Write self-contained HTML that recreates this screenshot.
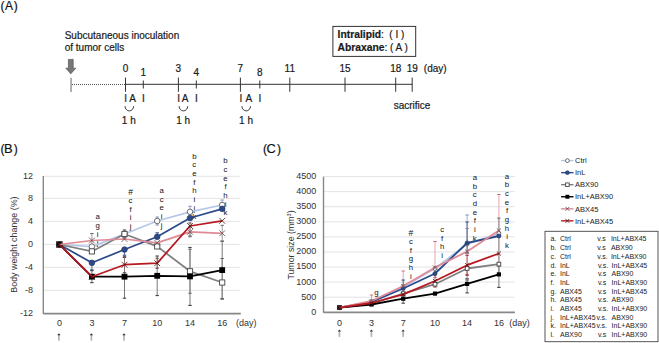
<!DOCTYPE html>
<html><head><meta charset="utf-8"><style>
html,body{margin:0;padding:0;background:#fff;overflow:hidden;}
svg{display:block;font-family:"Liberation Sans", sans-serif;}
</style></head><body>
<svg width="659" height="343" viewBox="0 0 659 343">
<rect width="659" height="343" fill="#fff"/>
<text x="0.5" y="10" font-size="12" text-anchor="start" font-weight="normal" fill="#111" stroke="#111" stroke-width="0.2" >(</text>
<text x="4.9" y="10" font-size="12" text-anchor="start" font-weight="normal" fill="#111" stroke="#111" stroke-width="0.2" >A</text>
<text x="13.8" y="10" font-size="12" text-anchor="start" font-weight="normal" fill="#111" stroke="#111" stroke-width="0.2" >)</text>
<text x="64.7" y="38.6" font-size="10" text-anchor="start" font-weight="normal" fill="#1a1a1a" stroke="#1a1a1a" stroke-width="0.2" >Subcutaneous inoculation</text>
<text x="64.7" y="50.6" font-size="10" text-anchor="start" font-weight="normal" fill="#1a1a1a" stroke="#1a1a1a" stroke-width="0.2" >of tumor cells</text>
<path d="M68.4 59.4 H73.2 V68.2 H75.8 L70.8 73.8 L65.8 68.2 H68.4 Z" fill="#777" stroke="#555" stroke-width="0.7"/>
<line x1="71.05" y1="77.7" x2="71.05" y2="91.9" stroke="#999" stroke-width="1.5" />
<line x1="72" y1="84.5" x2="125" y2="84.5" stroke="#555" stroke-width="1" stroke-dasharray="1 1"/>
<line x1="125.5" y1="84.3" x2="412.2" y2="84.3" stroke="#333" stroke-width="1" />
<line x1="125.5" y1="77.6" x2="125.5" y2="91.8" stroke="#333" stroke-width="1" />
<line x1="178.4" y1="77.6" x2="178.4" y2="91.8" stroke="#333" stroke-width="1" />
<line x1="240.4" y1="77.6" x2="240.4" y2="91.8" stroke="#333" stroke-width="1" />
<line x1="289.8" y1="77.6" x2="289.8" y2="91.8" stroke="#333" stroke-width="1" />
<line x1="345.0" y1="77.6" x2="345.0" y2="91.8" stroke="#333" stroke-width="1" />
<line x1="395.7" y1="77.6" x2="395.7" y2="91.8" stroke="#333" stroke-width="1" />
<line x1="412.2" y1="77.6" x2="412.2" y2="91.8" stroke="#333" stroke-width="1" />
<line x1="143.3" y1="80.5" x2="143.3" y2="88.5" stroke="#333" stroke-width="1" />
<line x1="196.3" y1="80.5" x2="196.3" y2="88.5" stroke="#333" stroke-width="1" />
<line x1="259.8" y1="80.5" x2="259.8" y2="88.5" stroke="#333" stroke-width="1" />
<text x="125.5" y="72.4" font-size="10" text-anchor="middle" font-weight="normal" fill="#1a1a1a" stroke="#1a1a1a" stroke-width="0.2" >0</text>
<text x="178.4" y="72.4" font-size="10" text-anchor="middle" font-weight="normal" fill="#1a1a1a" stroke="#1a1a1a" stroke-width="0.2" >3</text>
<text x="240.4" y="72.4" font-size="10" text-anchor="middle" font-weight="normal" fill="#1a1a1a" stroke="#1a1a1a" stroke-width="0.2" >7</text>
<text x="289.8" y="72.4" font-size="10" text-anchor="middle" font-weight="normal" fill="#1a1a1a" stroke="#1a1a1a" stroke-width="0.2" >11</text>
<text x="345.0" y="72.4" font-size="10" text-anchor="middle" font-weight="normal" fill="#1a1a1a" stroke="#1a1a1a" stroke-width="0.2" >15</text>
<text x="395.7" y="72.4" font-size="10" text-anchor="middle" font-weight="normal" fill="#1a1a1a" stroke="#1a1a1a" stroke-width="0.2" >18</text>
<text x="412.2" y="72.4" font-size="10" text-anchor="middle" font-weight="normal" fill="#1a1a1a" stroke="#1a1a1a" stroke-width="0.2" >19</text>
<text x="143.3" y="75.9" font-size="10" text-anchor="middle" font-weight="normal" fill="#1a1a1a" stroke="#1a1a1a" stroke-width="0.2" >1</text>
<text x="196.3" y="75.9" font-size="10" text-anchor="middle" font-weight="normal" fill="#1a1a1a" stroke="#1a1a1a" stroke-width="0.2" >4</text>
<text x="259.8" y="75.9" font-size="10" text-anchor="middle" font-weight="normal" fill="#1a1a1a" stroke="#1a1a1a" stroke-width="0.2" >8</text>
<text x="423.8" y="72.4" font-size="10" text-anchor="start" font-weight="normal" fill="#1a1a1a" stroke="#1a1a1a" stroke-width="0.2" >(day)</text>
<text x="125.6" y="102.4" font-size="10" text-anchor="middle" font-weight="normal" fill="#1a1a1a" stroke="#1a1a1a" stroke-width="0.2" >I</text>
<text x="132.6" y="102.4" font-size="10" text-anchor="middle" font-weight="normal" fill="#1a1a1a" stroke="#1a1a1a" stroke-width="0.2" >A</text>
<text x="143.3" y="102.4" font-size="10" text-anchor="middle" font-weight="normal" fill="#1a1a1a" stroke="#1a1a1a" stroke-width="0.2" >I</text>
<path d="M125.00000000000001 106.2 A4.3 4.7 0 0 0 133.60000000000002 106.2" fill="none" stroke="#333" stroke-width="0.95"/>
<text x="128.8" y="124.3" font-size="10" text-anchor="middle" font-weight="normal" fill="#1a1a1a" stroke="#1a1a1a" stroke-width="0.2" >1 h</text>
<text x="178.7" y="102.4" font-size="10" text-anchor="middle" font-weight="normal" fill="#1a1a1a" stroke="#1a1a1a" stroke-width="0.2" >I</text>
<text x="185.0" y="102.4" font-size="10" text-anchor="middle" font-weight="normal" fill="#1a1a1a" stroke="#1a1a1a" stroke-width="0.2" >A</text>
<text x="196.3" y="102.4" font-size="10" text-anchor="middle" font-weight="normal" fill="#1a1a1a" stroke="#1a1a1a" stroke-width="0.2" >I</text>
<path d="M179.1 106.2 A4.3 4.7 0 0 0 187.70000000000002 106.2" fill="none" stroke="#333" stroke-width="0.95"/>
<text x="183.1" y="124.3" font-size="10" text-anchor="middle" font-weight="normal" fill="#1a1a1a" stroke="#1a1a1a" stroke-width="0.2" >1 h</text>
<text x="241.0" y="102.4" font-size="10" text-anchor="middle" font-weight="normal" fill="#1a1a1a" stroke="#1a1a1a" stroke-width="0.2" >I</text>
<text x="248.9" y="102.4" font-size="10" text-anchor="middle" font-weight="normal" fill="#1a1a1a" stroke="#1a1a1a" stroke-width="0.2" >A</text>
<text x="259.8" y="102.4" font-size="10" text-anchor="middle" font-weight="normal" fill="#1a1a1a" stroke="#1a1a1a" stroke-width="0.2" >I</text>
<path d="M241.89999999999998 106.2 A4.3 4.7 0 0 0 250.5 106.2" fill="none" stroke="#333" stroke-width="0.95"/>
<text x="246.0" y="124.3" font-size="10" text-anchor="middle" font-weight="normal" fill="#1a1a1a" stroke="#1a1a1a" stroke-width="0.2" >1 h</text>
<text x="412.0" y="109.0" font-size="10" text-anchor="middle" font-weight="normal" fill="#1a1a1a" stroke="#1a1a1a" stroke-width="0.2" >sacrifice</text>
<rect x="332.9" y="26.4" width="82.8" height="30" fill="none" stroke="#333" stroke-width="1"/>
<text x="337.6" y="38.4" font-size="10.3" text-anchor="start" font-weight="normal" fill="#1a1a1a" stroke="#1a1a1a" stroke-width="0.2" ><tspan font-weight="bold">Intralipid</tspan>:</text>
<text x="389.3" y="38.4" font-size="10" text-anchor="start" font-weight="normal" fill="#1a1a1a" stroke="#1a1a1a" stroke-width="0.2" >( I )</text>
<text x="337.6" y="51.0" font-size="10.3" text-anchor="start" font-weight="normal" fill="#1a1a1a" stroke="#1a1a1a" stroke-width="0.2" ><tspan font-weight="bold">Abraxane</tspan>:</text>
<text x="390.0" y="51.0" font-size="10" text-anchor="start" font-weight="normal" fill="#1a1a1a" stroke="#1a1a1a" stroke-width="0.2" >( A )</text>
<text x="0.6" y="153" font-size="12" text-anchor="start" font-weight="normal" fill="#111" stroke="#111" stroke-width="0.2" >(</text>
<text x="4.1" y="153" font-size="12.9" text-anchor="start" font-weight="normal" fill="#111" stroke="#111" stroke-width="0.2" >B</text>
<text x="13.7" y="153" font-size="12" text-anchor="start" font-weight="normal" fill="#111" stroke="#111" stroke-width="0.2" >)</text>
<line x1="44" y1="176.3" x2="239.5" y2="176.3" stroke="#dcdcdc" stroke-width="0.8" />
<line x1="44" y1="198.4" x2="239.5" y2="198.4" stroke="#dcdcdc" stroke-width="0.8" />
<line x1="44" y1="221.4" x2="239.5" y2="221.4" stroke="#dcdcdc" stroke-width="0.8" />
<line x1="44" y1="244.4" x2="239.5" y2="244.4" stroke="#dcdcdc" stroke-width="0.8" />
<line x1="44" y1="267.4" x2="239.5" y2="267.4" stroke="#dcdcdc" stroke-width="0.8" />
<line x1="44" y1="290.3" x2="239.5" y2="290.3" stroke="#dcdcdc" stroke-width="0.8" />
<text x="33" y="179.10000000000002" font-size="9" text-anchor="end" font-weight="normal" fill="#333" stroke="#333" stroke-width="0" >12</text>
<text x="33" y="201.20000000000002" font-size="9" text-anchor="end" font-weight="normal" fill="#333" stroke="#333" stroke-width="0" >8</text>
<text x="33" y="224.20000000000002" font-size="9" text-anchor="end" font-weight="normal" fill="#333" stroke="#333" stroke-width="0" >4</text>
<text x="33" y="247.20000000000002" font-size="9" text-anchor="end" font-weight="normal" fill="#333" stroke="#333" stroke-width="0" >0</text>
<text x="33" y="270.2" font-size="9" text-anchor="end" font-weight="normal" fill="#333" stroke="#333" stroke-width="0" >-4</text>
<text x="33" y="293.1" font-size="9" text-anchor="end" font-weight="normal" fill="#333" stroke="#333" stroke-width="0" >-8</text>
<text x="33" y="316.40000000000003" font-size="9" text-anchor="end" font-weight="normal" fill="#333" stroke="#333" stroke-width="0" >-12</text>
<line x1="43.3" y1="176.0" x2="43.3" y2="314" stroke="#888" stroke-width="1.4" />
<line x1="43.3" y1="313.6" x2="240.8" y2="313.6" stroke="#888" stroke-width="1.6" />
<text x="59.4" y="325.9" font-size="9" text-anchor="middle" font-weight="normal" fill="#333" stroke="#333" stroke-width="0" >0</text>
<text x="91.9" y="325.9" font-size="9" text-anchor="middle" font-weight="normal" fill="#333" stroke="#333" stroke-width="0" >3</text>
<text x="124.5" y="325.9" font-size="9" text-anchor="middle" font-weight="normal" fill="#333" stroke="#333" stroke-width="0" >7</text>
<text x="157.2" y="325.9" font-size="9" text-anchor="middle" font-weight="normal" fill="#333" stroke="#333" stroke-width="0" >10</text>
<text x="190.0" y="325.9" font-size="9" text-anchor="middle" font-weight="normal" fill="#333" stroke="#333" stroke-width="0" >14</text>
<text x="222.2" y="325.9" font-size="9" text-anchor="middle" font-weight="normal" fill="#333" stroke="#333" stroke-width="0" >16</text>
<text x="236.0" y="325.9" font-size="9" text-anchor="start" font-weight="normal" fill="#333" stroke="#333" stroke-width="0" >(day)</text>
<rect x="58.1" y="335.0" width="1.6" height="5.7" fill="#b0b0b0"/>
<path d="M57.199999999999996 335.2 L58.9 333.2 L60.6 335.2 Z" fill="#333"/>
<rect x="90.60000000000001" y="335.0" width="1.6" height="5.7" fill="#b0b0b0"/>
<path d="M89.7 335.2 L91.4 333.2 L93.10000000000001 335.2 Z" fill="#333"/>
<rect x="123.2" y="335.0" width="1.6" height="5.7" fill="#b0b0b0"/>
<path d="M122.3 335.2 L124.0 333.2 L125.7 335.2 Z" fill="#333"/>
<text transform="translate(16.6 244.6) rotate(-90)" font-size="8.9" text-anchor="middle" fill="#333">Body weight change (%)</text>
<text x="263" y="153" font-size="12" text-anchor="start" font-weight="normal" fill="#111" stroke="#111" stroke-width="0.2" >(</text>
<text x="266.6" y="153" font-size="12.8" text-anchor="start" font-weight="normal" fill="#111" stroke="#111" stroke-width="0.2" >C</text>
<text x="277" y="153" font-size="12" text-anchor="start" font-weight="normal" fill="#111" stroke="#111" stroke-width="0.2" >)</text>
<line x1="324" y1="297.22" x2="514.9" y2="297.22" stroke="#dcdcdc" stroke-width="0.8" />
<line x1="324" y1="282.14" x2="514.9" y2="282.14" stroke="#dcdcdc" stroke-width="0.8" />
<line x1="324" y1="267.06" x2="514.9" y2="267.06" stroke="#dcdcdc" stroke-width="0.8" />
<line x1="324" y1="251.98000000000002" x2="514.9" y2="251.98000000000002" stroke="#dcdcdc" stroke-width="0.8" />
<line x1="324" y1="236.9" x2="514.9" y2="236.9" stroke="#dcdcdc" stroke-width="0.8" />
<line x1="324" y1="221.82" x2="514.9" y2="221.82" stroke="#dcdcdc" stroke-width="0.8" />
<line x1="324" y1="206.74" x2="514.9" y2="206.74" stroke="#dcdcdc" stroke-width="0.8" />
<line x1="324" y1="191.66000000000003" x2="514.9" y2="191.66000000000003" stroke="#dcdcdc" stroke-width="0.8" />
<line x1="324" y1="176.58" x2="514.9" y2="176.58" stroke="#dcdcdc" stroke-width="0.8" />
<text transform="translate(316.2 314.7) scale(0.93 1)" font-size="9.7" text-anchor="end" font-weight="normal" fill="#333" >0</text>
<text transform="translate(316.2 299.62) scale(0.93 1)" font-size="9.7" text-anchor="end" font-weight="normal" fill="#333" >500</text>
<text transform="translate(316.2 284.53999999999996) scale(0.93 1)" font-size="9.7" text-anchor="end" font-weight="normal" fill="#333" >1000</text>
<text transform="translate(316.2 269.46) scale(0.93 1)" font-size="9.7" text-anchor="end" font-weight="normal" fill="#333" >1500</text>
<text transform="translate(316.2 254.38000000000002) scale(0.93 1)" font-size="9.7" text-anchor="end" font-weight="normal" fill="#333" >2000</text>
<text transform="translate(316.2 239.3) scale(0.93 1)" font-size="9.7" text-anchor="end" font-weight="normal" fill="#333" >2500</text>
<text transform="translate(316.2 224.22) scale(0.93 1)" font-size="9.7" text-anchor="end" font-weight="normal" fill="#333" >3000</text>
<text transform="translate(316.2 209.14000000000001) scale(0.93 1)" font-size="9.7" text-anchor="end" font-weight="normal" fill="#333" >3500</text>
<text transform="translate(316.2 194.06000000000003) scale(0.93 1)" font-size="9.7" text-anchor="end" font-weight="normal" fill="#333" >4000</text>
<text transform="translate(316.2 178.98000000000002) scale(0.93 1)" font-size="9.7" text-anchor="end" font-weight="normal" fill="#333" >4500</text>
<line x1="323.5" y1="176.6" x2="323.5" y2="312.7" stroke="#888" stroke-width="1.4" />
<line x1="323.5" y1="312.4" x2="514.9" y2="312.4" stroke="#888" stroke-width="1.6" />
<text x="339.5" y="325.9" font-size="9" text-anchor="middle" font-weight="normal" fill="#333" stroke="#333" stroke-width="0" >0</text>
<text x="371.5" y="325.9" font-size="9" text-anchor="middle" font-weight="normal" fill="#333" stroke="#333" stroke-width="0" >3</text>
<text x="403.2" y="325.9" font-size="9" text-anchor="middle" font-weight="normal" fill="#333" stroke="#333" stroke-width="0" >7</text>
<text x="435.0" y="325.9" font-size="9" text-anchor="middle" font-weight="normal" fill="#333" stroke="#333" stroke-width="0" >10</text>
<text x="467.1" y="325.9" font-size="9" text-anchor="middle" font-weight="normal" fill="#333" stroke="#333" stroke-width="0" >14</text>
<text x="498.9" y="325.9" font-size="9" text-anchor="middle" font-weight="normal" fill="#333" stroke="#333" stroke-width="0" >16</text>
<text x="509.3" y="325.9" font-size="9" text-anchor="start" font-weight="normal" fill="#333" stroke="#333" stroke-width="0" >(day)</text>
<rect x="338.59999999999997" y="331.40000000000003" width="1.6" height="5.499999999999955" fill="#b0b0b0"/>
<path d="M337.7 331.6 L339.4 329.6 L341.09999999999997 331.6 Z" fill="#333"/>
<rect x="370.59999999999997" y="331.40000000000003" width="1.6" height="5.499999999999955" fill="#b0b0b0"/>
<path d="M369.7 331.6 L371.4 329.6 L373.09999999999997 331.6 Z" fill="#333"/>
<rect x="402.29999999999995" y="331.40000000000003" width="1.6" height="5.499999999999955" fill="#b0b0b0"/>
<path d="M401.4 331.6 L403.09999999999997 329.6 L404.79999999999995 331.6 Z" fill="#333"/>
<text transform="translate(294 245) rotate(-90)" font-size="8.8" text-anchor="middle" fill="#333">Tumor size (mm<tspan font-size="5.5" dy="-3">3</tspan><tspan dy="3">)</tspan></text>
<text x="97.7" y="219.4" font-size="7.8" text-anchor="middle" font-weight="normal" fill="#111" stroke="#111" stroke-width="0" >a</text>
<text x="97.7" y="228.05" font-size="7.8" text-anchor="middle" font-weight="normal" fill="#111" stroke="#111" stroke-width="0" >g</text>
<text x="97.7" y="236.70000000000002" font-size="7.8" text-anchor="middle" font-weight="normal" fill="#111" stroke="#111" stroke-width="0" >i</text>
<text x="97.7" y="245.35" font-size="7.8" text-anchor="middle" font-weight="normal" fill="#111" stroke="#111" stroke-width="0" >j</text>
<text x="130.5" y="194.60000000000002" font-size="8.5" text-anchor="middle" font-weight="normal" fill="#111" stroke="#111" stroke-width="0" >#</text>
<text x="130.5" y="203.05" font-size="7.8" text-anchor="middle" font-weight="normal" fill="#111" stroke="#111" stroke-width="0" >c</text>
<text x="130.5" y="211.70000000000002" font-size="7.8" text-anchor="middle" font-weight="normal" fill="#111" stroke="#111" stroke-width="0" >f</text>
<text x="130.5" y="220.35" font-size="7.8" text-anchor="middle" font-weight="normal" fill="#111" stroke="#111" stroke-width="0" >i</text>
<text x="130.5" y="229.0" font-size="7.8" text-anchor="middle" font-weight="normal" fill="#111" stroke="#111" stroke-width="0" >j</text>
<text x="161.7" y="192.9" font-size="7.8" text-anchor="middle" font-weight="normal" fill="#111" stroke="#111" stroke-width="0" >a</text>
<text x="161.7" y="201.55" font-size="7.8" text-anchor="middle" font-weight="normal" fill="#111" stroke="#111" stroke-width="0" >c</text>
<text x="161.7" y="210.20000000000002" font-size="7.8" text-anchor="middle" font-weight="normal" fill="#111" stroke="#111" stroke-width="0" >e</text>
<text x="161.7" y="218.85" font-size="7.8" text-anchor="middle" font-weight="normal" fill="#111" stroke="#111" stroke-width="0" >i</text>
<text x="161.7" y="227.5" font-size="7.8" text-anchor="middle" font-weight="normal" fill="#111" stroke="#111" stroke-width="0" >j</text>
<text x="194.3" y="158.7" font-size="7.8" text-anchor="middle" font-weight="normal" fill="#111" stroke="#111" stroke-width="0" >b</text>
<text x="194.3" y="167.35" font-size="7.8" text-anchor="middle" font-weight="normal" fill="#111" stroke="#111" stroke-width="0" >c</text>
<text x="194.3" y="176.0" font-size="7.8" text-anchor="middle" font-weight="normal" fill="#111" stroke="#111" stroke-width="0" >e</text>
<text x="194.3" y="184.65" font-size="7.8" text-anchor="middle" font-weight="normal" fill="#111" stroke="#111" stroke-width="0" >f</text>
<text x="194.3" y="193.29999999999998" font-size="7.8" text-anchor="middle" font-weight="normal" fill="#111" stroke="#111" stroke-width="0" >h</text>
<text x="194.3" y="201.95" font-size="7.8" text-anchor="middle" font-weight="normal" fill="#111" stroke="#111" stroke-width="0" >i</text>
<text x="194.3" y="210.6" font-size="7.8" text-anchor="middle" font-weight="normal" fill="#111" stroke="#111" stroke-width="0" >j</text>
<text x="194.3" y="219.25" font-size="7.8" text-anchor="middle" font-weight="normal" fill="#111" stroke="#111" stroke-width="0" >k</text>
<text x="225.5" y="163.29999999999998" font-size="7.8" text-anchor="middle" font-weight="normal" fill="#111" stroke="#111" stroke-width="0" >b</text>
<text x="225.5" y="171.95" font-size="7.8" text-anchor="middle" font-weight="normal" fill="#111" stroke="#111" stroke-width="0" >c</text>
<text x="225.5" y="180.6" font-size="7.8" text-anchor="middle" font-weight="normal" fill="#111" stroke="#111" stroke-width="0" >e</text>
<text x="225.5" y="189.24999999999997" font-size="7.8" text-anchor="middle" font-weight="normal" fill="#111" stroke="#111" stroke-width="0" >f</text>
<text x="225.5" y="197.89999999999998" font-size="7.8" text-anchor="middle" font-weight="normal" fill="#111" stroke="#111" stroke-width="0" >h</text>
<text x="225.5" y="206.54999999999998" font-size="7.8" text-anchor="middle" font-weight="normal" fill="#111" stroke="#111" stroke-width="0" >i</text>
<text x="225.5" y="215.2" font-size="7.8" text-anchor="middle" font-weight="normal" fill="#111" stroke="#111" stroke-width="0" >k</text>
<text x="376.4" y="294.90000000000003" font-size="7.8" text-anchor="middle" font-weight="normal" fill="#111" stroke="#111" stroke-width="0" >g</text>
<text x="410.9" y="235.5" font-size="8.5" text-anchor="middle" font-weight="normal" fill="#111" stroke="#111" stroke-width="0" >#</text>
<text x="410.9" y="243.95" font-size="7.8" text-anchor="middle" font-weight="normal" fill="#111" stroke="#111" stroke-width="0" >c</text>
<text x="410.9" y="252.6" font-size="7.8" text-anchor="middle" font-weight="normal" fill="#111" stroke="#111" stroke-width="0" >f</text>
<text x="410.9" y="261.25" font-size="7.8" text-anchor="middle" font-weight="normal" fill="#111" stroke="#111" stroke-width="0" >g</text>
<text x="410.9" y="269.90000000000003" font-size="7.8" text-anchor="middle" font-weight="normal" fill="#111" stroke="#111" stroke-width="0" >h</text>
<text x="410.9" y="278.55" font-size="7.8" text-anchor="middle" font-weight="normal" fill="#111" stroke="#111" stroke-width="0" >i</text>
<text x="442.1" y="232.1" font-size="7.8" text-anchor="middle" font-weight="normal" fill="#111" stroke="#111" stroke-width="0" >c</text>
<text x="442.1" y="240.75" font-size="7.8" text-anchor="middle" font-weight="normal" fill="#111" stroke="#111" stroke-width="0" >f</text>
<text x="442.1" y="249.4" font-size="7.8" text-anchor="middle" font-weight="normal" fill="#111" stroke="#111" stroke-width="0" >h</text>
<text x="442.1" y="258.05" font-size="7.8" text-anchor="middle" font-weight="normal" fill="#111" stroke="#111" stroke-width="0" >i</text>
<text x="474.8" y="180.0" font-size="7.8" text-anchor="middle" font-weight="normal" fill="#111" stroke="#111" stroke-width="0" >a</text>
<text x="474.8" y="188.65" font-size="7.8" text-anchor="middle" font-weight="normal" fill="#111" stroke="#111" stroke-width="0" >b</text>
<text x="474.8" y="197.3" font-size="7.8" text-anchor="middle" font-weight="normal" fill="#111" stroke="#111" stroke-width="0" >c</text>
<text x="474.8" y="205.95000000000002" font-size="7.8" text-anchor="middle" font-weight="normal" fill="#111" stroke="#111" stroke-width="0" >d</text>
<text x="474.8" y="214.6" font-size="7.8" text-anchor="middle" font-weight="normal" fill="#111" stroke="#111" stroke-width="0" >e</text>
<text x="474.8" y="223.25" font-size="7.8" text-anchor="middle" font-weight="normal" fill="#111" stroke="#111" stroke-width="0" >f</text>
<text x="474.8" y="231.9" font-size="7.8" text-anchor="middle" font-weight="normal" fill="#111" stroke="#111" stroke-width="0" >i</text>
<text x="474.8" y="240.55" font-size="7.8" text-anchor="middle" font-weight="normal" fill="#111" stroke="#111" stroke-width="0" >k</text>
<text x="507.0" y="178.6" font-size="7.8" text-anchor="middle" font-weight="normal" fill="#111" stroke="#111" stroke-width="0" >a</text>
<text x="507.0" y="187.25" font-size="7.8" text-anchor="middle" font-weight="normal" fill="#111" stroke="#111" stroke-width="0" >b</text>
<text x="507.0" y="195.9" font-size="7.8" text-anchor="middle" font-weight="normal" fill="#111" stroke="#111" stroke-width="0" >c</text>
<text x="507.0" y="204.54999999999998" font-size="7.8" text-anchor="middle" font-weight="normal" fill="#111" stroke="#111" stroke-width="0" >e</text>
<text x="507.0" y="213.2" font-size="7.8" text-anchor="middle" font-weight="normal" fill="#111" stroke="#111" stroke-width="0" >f</text>
<text x="507.0" y="221.85" font-size="7.8" text-anchor="middle" font-weight="normal" fill="#111" stroke="#111" stroke-width="0" >g</text>
<text x="507.0" y="230.5" font-size="7.8" text-anchor="middle" font-weight="normal" fill="#111" stroke="#111" stroke-width="0" >h</text>
<text x="507.0" y="239.15" font-size="7.8" text-anchor="middle" font-weight="normal" fill="#111" stroke="#111" stroke-width="0" >i</text>
<text x="507.0" y="247.79999999999998" font-size="7.8" text-anchor="middle" font-weight="normal" fill="#111" stroke="#111" stroke-width="0" >k</text>
<g id="B">
<line x1="91.9" y1="276.7" x2="91.9" y2="270.7" stroke="#777777" stroke-width="1.0" />
<line x1="90.2" y1="270.7" x2="93.60000000000001" y2="270.7" stroke="#333333" stroke-width="1.0" />
<line x1="91.9" y1="276.7" x2="91.9" y2="282.7" stroke="#777777" stroke-width="1.0" />
<line x1="90.2" y1="282.7" x2="93.60000000000001" y2="282.7" stroke="#333333" stroke-width="1.0" />
<line x1="124.5" y1="276.7" x2="124.5" y2="255.2" stroke="#777777" stroke-width="1.0" />
<line x1="122.8" y1="255.2" x2="126.2" y2="255.2" stroke="#333333" stroke-width="1.0" />
<line x1="124.5" y1="276.7" x2="124.5" y2="298.2" stroke="#777777" stroke-width="1.0" />
<line x1="122.8" y1="298.2" x2="126.2" y2="298.2" stroke="#333333" stroke-width="1.0" />
<line x1="157.2" y1="275.8" x2="157.2" y2="256.0" stroke="#777777" stroke-width="1.0" />
<line x1="155.5" y1="256.0" x2="158.89999999999998" y2="256.0" stroke="#333333" stroke-width="1.0" />
<line x1="157.2" y1="275.8" x2="157.2" y2="295.6" stroke="#777777" stroke-width="1.0" />
<line x1="155.5" y1="295.6" x2="158.89999999999998" y2="295.6" stroke="#333333" stroke-width="1.0" />
<line x1="190.0" y1="276.4" x2="190.0" y2="247.39999999999998" stroke="#777777" stroke-width="1.0" />
<line x1="188.3" y1="247.39999999999998" x2="191.7" y2="247.39999999999998" stroke="#333333" stroke-width="1.0" />
<line x1="190.0" y1="276.4" x2="190.0" y2="305.4" stroke="#777777" stroke-width="1.0" />
<line x1="188.3" y1="305.4" x2="191.7" y2="305.4" stroke="#333333" stroke-width="1.0" />
<line x1="222.2" y1="270.1" x2="222.2" y2="241.10000000000002" stroke="#777777" stroke-width="1.0" />
<line x1="220.5" y1="241.10000000000002" x2="223.89999999999998" y2="241.10000000000002" stroke="#333333" stroke-width="1.0" />
<line x1="222.2" y1="270.1" x2="222.2" y2="299.1" stroke="#777777" stroke-width="1.0" />
<line x1="220.5" y1="299.1" x2="223.89999999999998" y2="299.1" stroke="#333333" stroke-width="1.0" />
<line x1="91.9" y1="240.5" x2="91.9" y2="233.5" stroke="#a09a9c" stroke-width="1.0" />
<line x1="90.2" y1="233.5" x2="93.60000000000001" y2="233.5" stroke="#6a6a6a" stroke-width="1.0" />
<line x1="91.9" y1="240.5" x2="91.9" y2="247.5" stroke="#a09a9c" stroke-width="1.0" />
<line x1="90.2" y1="247.5" x2="93.60000000000001" y2="247.5" stroke="#6a6a6a" stroke-width="1.0" />
<line x1="91.9" y1="262.8" x2="91.9" y2="269.8" stroke="#5a70a0" stroke-width="1.0" />
<line x1="90.2" y1="269.8" x2="93.60000000000001" y2="269.8" stroke="#2f4a80" stroke-width="1.0" />
<line x1="124.5" y1="249.5" x2="124.5" y2="257.5" stroke="#5a70a0" stroke-width="1.0" />
<line x1="122.8" y1="257.5" x2="126.2" y2="257.5" stroke="#2f4a80" stroke-width="1.0" />
<line x1="157.2" y1="236.8" x2="157.2" y2="232.8" stroke="#5a70a0" stroke-width="1.0" />
<line x1="155.5" y1="232.8" x2="158.89999999999998" y2="232.8" stroke="#2f4a80" stroke-width="1.0" />
<line x1="124.5" y1="264.7" x2="124.5" y2="256.7" stroke="#907070" stroke-width="1.0" />
<line x1="122.8" y1="256.7" x2="126.2" y2="256.7" stroke="#604040" stroke-width="1.0" />
<line x1="124.5" y1="264.7" x2="124.5" y2="272.7" stroke="#907070" stroke-width="1.0" />
<line x1="122.8" y1="272.7" x2="126.2" y2="272.7" stroke="#604040" stroke-width="1.0" />
<line x1="157.2" y1="263.2" x2="157.2" y2="258.2" stroke="#907070" stroke-width="1.0" />
<line x1="155.5" y1="258.2" x2="158.89999999999998" y2="258.2" stroke="#604040" stroke-width="1.0" />
<line x1="157.2" y1="263.2" x2="157.2" y2="268.2" stroke="#907070" stroke-width="1.0" />
<line x1="155.5" y1="268.2" x2="158.89999999999998" y2="268.2" stroke="#604040" stroke-width="1.0" />
<line x1="190.0" y1="226.0" x2="190.0" y2="223.0" stroke="#907070" stroke-width="1.0" />
<line x1="188.3" y1="223.0" x2="191.7" y2="223.0" stroke="#604040" stroke-width="1.0" />
<line x1="190.0" y1="226.0" x2="190.0" y2="236.0" stroke="#907070" stroke-width="1.0" />
<line x1="188.3" y1="236.0" x2="191.7" y2="236.0" stroke="#604040" stroke-width="1.0" />
<line x1="190.0" y1="271.3" x2="190.0" y2="249.3" stroke="#8a8a8a" stroke-width="1.0" />
<line x1="188.3" y1="249.3" x2="191.7" y2="249.3" stroke="#666666" stroke-width="1.0" />
<line x1="190.0" y1="271.3" x2="190.0" y2="293.3" stroke="#8a8a8a" stroke-width="1.0" />
<line x1="188.3" y1="293.3" x2="191.7" y2="293.3" stroke="#666666" stroke-width="1.0" />
<line x1="222.2" y1="282.5" x2="222.2" y2="258.5" stroke="#8a8a8a" stroke-width="1.0" />
<line x1="220.5" y1="258.5" x2="223.89999999999998" y2="258.5" stroke="#666666" stroke-width="1.0" />
<line x1="222.2" y1="282.5" x2="222.2" y2="298.5" stroke="#8a8a8a" stroke-width="1.0" />
<line x1="220.5" y1="298.5" x2="223.89999999999998" y2="298.5" stroke="#666666" stroke-width="1.0" />
<line x1="190.0" y1="231.8" x2="190.0" y2="226.8" stroke="#a09a9c" stroke-width="1.0" />
<line x1="188.3" y1="226.8" x2="191.7" y2="226.8" stroke="#6a6a6a" stroke-width="1.0" />
<line x1="190.0" y1="231.8" x2="190.0" y2="236.8" stroke="#a09a9c" stroke-width="1.0" />
<line x1="188.3" y1="236.8" x2="191.7" y2="236.8" stroke="#6a6a6a" stroke-width="1.0" />
<line x1="222.2" y1="233.3" x2="222.2" y2="225.3" stroke="#a09a9c" stroke-width="1.0" />
<line x1="220.5" y1="225.3" x2="223.89999999999998" y2="225.3" stroke="#6a6a6a" stroke-width="1.0" />
<line x1="222.2" y1="233.3" x2="222.2" y2="241.3" stroke="#a09a9c" stroke-width="1.0" />
<line x1="220.5" y1="241.3" x2="223.89999999999998" y2="241.3" stroke="#6a6a6a" stroke-width="1.0" />
<line x1="222.2" y1="205.0" x2="222.2" y2="200.0" stroke="#9fb0cc" stroke-width="1.0" />
<line x1="220.5" y1="200.0" x2="223.89999999999998" y2="200.0" stroke="#8090b0" stroke-width="1.0" />
<line x1="222.2" y1="205.0" x2="222.2" y2="210.0" stroke="#9fb0cc" stroke-width="1.0" />
<line x1="220.5" y1="210.0" x2="223.89999999999998" y2="210.0" stroke="#8090b0" stroke-width="1.0" />
<line x1="190.0" y1="211.8" x2="190.0" y2="206.3" stroke="#9fb0cc" stroke-width="1.0" />
<line x1="188.3" y1="206.3" x2="191.7" y2="206.3" stroke="#8090b0" stroke-width="1.0" />
<line x1="190.0" y1="211.8" x2="190.0" y2="217.3" stroke="#9fb0cc" stroke-width="1.0" />
<line x1="188.3" y1="217.3" x2="191.7" y2="217.3" stroke="#8090b0" stroke-width="1.0" />
<line x1="157.2" y1="221.0" x2="157.2" y2="217.0" stroke="#9fb0cc" stroke-width="1.0" />
<line x1="155.5" y1="217.0" x2="158.89999999999998" y2="217.0" stroke="#8090b0" stroke-width="1.0" />
<line x1="157.2" y1="221.0" x2="157.2" y2="225.0" stroke="#9fb0cc" stroke-width="1.0" />
<line x1="155.5" y1="225.0" x2="158.89999999999998" y2="225.0" stroke="#8090b0" stroke-width="1.0" />
<line x1="124.5" y1="234.0" x2="124.5" y2="230.0" stroke="#9fb0cc" stroke-width="1.0" />
<line x1="122.8" y1="230.0" x2="126.2" y2="230.0" stroke="#8090b0" stroke-width="1.0" />
<line x1="124.5" y1="234.0" x2="124.5" y2="238.0" stroke="#9fb0cc" stroke-width="1.0" />
<line x1="122.8" y1="238.0" x2="126.2" y2="238.0" stroke="#8090b0" stroke-width="1.0" />
<line x1="124.5" y1="234.0" x2="124.5" y2="230.0" stroke="#8a8a8a" stroke-width="1.0" />
<line x1="122.8" y1="230.0" x2="126.2" y2="230.0" stroke="#666666" stroke-width="1.0" />
<line x1="124.5" y1="234.0" x2="124.5" y2="238.0" stroke="#8a8a8a" stroke-width="1.0" />
<line x1="122.8" y1="238.0" x2="126.2" y2="238.0" stroke="#666666" stroke-width="1.0" />
<polyline points="59.4,244.5 91.9,246.6 124.5,234.0 157.2,221.0 190.0,211.8 222.2,205.0" fill="none" stroke="#b4c7e7" stroke-width="1.75" stroke-linejoin="round"/>
<circle cx="59.4" cy="244.5" r="2.75" fill="#fff" stroke="#555" stroke-width="0.85"/>
<circle cx="91.9" cy="246.6" r="2.75" fill="#fff" stroke="#555" stroke-width="0.85"/>
<circle cx="124.5" cy="234.0" r="2.75" fill="#fff" stroke="#555" stroke-width="0.85"/>
<circle cx="157.2" cy="221.0" r="2.75" fill="#fff" stroke="#555" stroke-width="0.85"/>
<circle cx="190.0" cy="211.8" r="2.75" fill="#fff" stroke="#555" stroke-width="0.85"/>
<circle cx="222.2" cy="205.0" r="2.75" fill="#fff" stroke="#555" stroke-width="0.85"/>
<polyline points="59.4,244.5 91.9,262.8 124.5,249.5 157.2,236.8 190.0,218.0 222.2,208.8" fill="none" stroke="#2c4a8a" stroke-width="1.75" stroke-linejoin="round"/>
<circle cx="59.4" cy="244.5" r="2.85" fill="#2c4a8a" stroke="#1f3460" stroke-width="0.6"/>
<circle cx="91.9" cy="262.8" r="2.85" fill="#2c4a8a" stroke="#1f3460" stroke-width="0.6"/>
<circle cx="124.5" cy="249.5" r="2.85" fill="#2c4a8a" stroke="#1f3460" stroke-width="0.6"/>
<circle cx="157.2" cy="236.8" r="2.85" fill="#2c4a8a" stroke="#1f3460" stroke-width="0.6"/>
<circle cx="190.0" cy="218.0" r="2.85" fill="#2c4a8a" stroke="#1f3460" stroke-width="0.6"/>
<circle cx="222.2" cy="208.8" r="2.85" fill="#2c4a8a" stroke="#1f3460" stroke-width="0.6"/>
<polyline points="59.4,244.5 91.9,251.4 124.5,234.0 157.2,246.4 190.0,271.3 222.2,282.5" fill="none" stroke="#808080" stroke-width="1.75" stroke-linejoin="round"/>
<rect x="56.8" y="241.9" width="5.2" height="5.2" fill="#fff" stroke="#444" stroke-width="0.9"/>
<rect x="89.30000000000001" y="248.8" width="5.2" height="5.2" fill="#fff" stroke="#444" stroke-width="0.9"/>
<rect x="121.9" y="231.4" width="5.2" height="5.2" fill="#fff" stroke="#444" stroke-width="0.9"/>
<rect x="154.6" y="243.8" width="5.2" height="5.2" fill="#fff" stroke="#444" stroke-width="0.9"/>
<rect x="187.4" y="268.7" width="5.2" height="5.2" fill="#fff" stroke="#444" stroke-width="0.9"/>
<rect x="219.6" y="279.9" width="5.2" height="5.2" fill="#fff" stroke="#444" stroke-width="0.9"/>
<polyline points="59.4,244.5 91.9,276.7 124.5,276.7 157.2,275.8 190.0,276.4 222.2,270.1" fill="none" stroke="#000000" stroke-width="1.75" stroke-linejoin="round"/>
<rect x="56.5" y="241.6" width="5.8" height="5.8" fill="#000"/>
<rect x="89.0" y="273.8" width="5.8" height="5.8" fill="#000"/>
<rect x="121.6" y="273.8" width="5.8" height="5.8" fill="#000"/>
<rect x="154.29999999999998" y="272.90000000000003" width="5.8" height="5.8" fill="#000"/>
<rect x="187.1" y="273.5" width="5.8" height="5.8" fill="#000"/>
<rect x="219.29999999999998" y="267.20000000000005" width="5.8" height="5.8" fill="#000"/>
<polyline points="59.4,244.5 91.9,240.5 124.5,239.0 157.2,242.8 190.0,231.8 222.2,233.3" fill="none" stroke="#e08a96" stroke-width="1.75" stroke-linejoin="round"/>
<path d="M56.5 241.6 L62.3 247.4 M56.5 247.4 L62.3 241.6" stroke="#5a4a50" stroke-width="0.8" fill="none"/>
<path d="M89.0 237.6 L94.80000000000001 243.4 M89.0 243.4 L94.80000000000001 237.6" stroke="#5a4a50" stroke-width="0.8" fill="none"/>
<path d="M121.6 236.1 L127.4 241.9 M121.6 241.9 L127.4 236.1" stroke="#5a4a50" stroke-width="0.8" fill="none"/>
<path d="M154.29999999999998 239.9 L160.1 245.70000000000002 M154.29999999999998 245.70000000000002 L160.1 239.9" stroke="#5a4a50" stroke-width="0.8" fill="none"/>
<path d="M187.1 228.9 L192.9 234.70000000000002 M187.1 234.70000000000002 L192.9 228.9" stroke="#5a4a50" stroke-width="0.8" fill="none"/>
<path d="M219.29999999999998 230.4 L225.1 236.20000000000002 M219.29999999999998 236.20000000000002 L225.1 230.4" stroke="#5a4a50" stroke-width="0.8" fill="none"/>
<polyline points="59.4,244.5 91.9,276.7 124.5,264.7 157.2,263.2 190.0,226.0 222.2,220.8" fill="none" stroke="#b81820" stroke-width="1.75" stroke-linejoin="round"/>
<path d="M56.5 241.6 L62.3 247.4 M56.5 247.4 L62.3 241.6" stroke="#4a1515" stroke-width="0.8" fill="none"/>
<path d="M89.0 273.8 L94.80000000000001 279.59999999999997 M89.0 279.59999999999997 L94.80000000000001 273.8" stroke="#4a1515" stroke-width="0.8" fill="none"/>
<path d="M121.6 261.8 L127.4 267.59999999999997 M121.6 267.59999999999997 L127.4 261.8" stroke="#4a1515" stroke-width="0.8" fill="none"/>
<path d="M154.29999999999998 260.3 L160.1 266.09999999999997 M154.29999999999998 266.09999999999997 L160.1 260.3" stroke="#4a1515" stroke-width="0.8" fill="none"/>
<path d="M187.1 223.1 L192.9 228.9 M187.1 228.9 L192.9 223.1" stroke="#4a1515" stroke-width="0.8" fill="none"/>
<path d="M219.29999999999998 217.9 L225.1 223.70000000000002 M219.29999999999998 223.70000000000002 L225.1 217.9" stroke="#4a1515" stroke-width="0.8" fill="none"/>
</g>
<g id="C">
<line x1="371.5" y1="301.0" x2="371.5" y2="295.0" stroke="#e3a6b0" stroke-width="1.0" />
<line x1="369.8" y1="295.0" x2="373.2" y2="295.0" stroke="#c07080" stroke-width="1.0" />
<line x1="371.5" y1="301.0" x2="371.5" y2="304.0" stroke="#e3a6b0" stroke-width="1.0" />
<line x1="369.8" y1="304.0" x2="373.2" y2="304.0" stroke="#c07080" stroke-width="1.0" />
<line x1="403.2" y1="286.0" x2="403.2" y2="271.0" stroke="#e3a6b0" stroke-width="1.0" />
<line x1="401.5" y1="271.0" x2="404.9" y2="271.0" stroke="#c07080" stroke-width="1.0" />
<line x1="403.2" y1="286.0" x2="403.2" y2="294.0" stroke="#e3a6b0" stroke-width="1.0" />
<line x1="401.5" y1="294.0" x2="404.9" y2="294.0" stroke="#c07080" stroke-width="1.0" />
<line x1="435.0" y1="267.5" x2="435.0" y2="241.5" stroke="#e3a6b0" stroke-width="1.0" />
<line x1="433.3" y1="241.5" x2="436.7" y2="241.5" stroke="#c07080" stroke-width="1.0" />
<line x1="435.0" y1="267.5" x2="435.0" y2="277.5" stroke="#e3a6b0" stroke-width="1.0" />
<line x1="433.3" y1="277.5" x2="436.7" y2="277.5" stroke="#c07080" stroke-width="1.0" />
<line x1="467.1" y1="251.5" x2="467.1" y2="228.5" stroke="#e3a6b0" stroke-width="1.0" />
<line x1="465.40000000000003" y1="228.5" x2="468.8" y2="228.5" stroke="#c07080" stroke-width="1.0" />
<line x1="467.1" y1="251.5" x2="467.1" y2="274.5" stroke="#e3a6b0" stroke-width="1.0" />
<line x1="465.40000000000003" y1="274.5" x2="468.8" y2="274.5" stroke="#c07080" stroke-width="1.0" />
<line x1="467.1" y1="244.0" x2="467.1" y2="215.0" stroke="#9fb0cc" stroke-width="1.0" />
<line x1="465.40000000000003" y1="215.0" x2="468.8" y2="215.0" stroke="#8090b0" stroke-width="1.0" />
<line x1="498.9" y1="230.5" x2="498.9" y2="194.5" stroke="#e3a6b0" stroke-width="1.0" />
<line x1="497.2" y1="194.5" x2="500.59999999999997" y2="194.5" stroke="#c07080" stroke-width="1.0" />
<line x1="498.9" y1="230.5" x2="498.9" y2="266.5" stroke="#e3a6b0" stroke-width="1.0" />
<line x1="497.2" y1="266.5" x2="500.59999999999997" y2="266.5" stroke="#c07080" stroke-width="1.0" />
<line x1="403.2" y1="298.7" x2="403.2" y2="295.7" stroke="#777777" stroke-width="1.0" />
<line x1="401.5" y1="295.7" x2="404.9" y2="295.7" stroke="#333333" stroke-width="1.0" />
<line x1="403.2" y1="298.7" x2="403.2" y2="303.2" stroke="#777777" stroke-width="1.0" />
<line x1="401.5" y1="303.2" x2="404.9" y2="303.2" stroke="#333333" stroke-width="1.0" />
<line x1="403.2" y1="288.5" x2="403.2" y2="280.0" stroke="#5a70a0" stroke-width="1.0" />
<line x1="401.5" y1="280.0" x2="404.9" y2="280.0" stroke="#2f4a80" stroke-width="1.0" />
<line x1="467.1" y1="283.9" x2="467.1" y2="279.9" stroke="#777777" stroke-width="1.0" />
<line x1="465.40000000000003" y1="279.9" x2="468.8" y2="279.9" stroke="#333333" stroke-width="1.0" />
<line x1="467.1" y1="283.9" x2="467.1" y2="292.9" stroke="#777777" stroke-width="1.0" />
<line x1="465.40000000000003" y1="292.9" x2="468.8" y2="292.9" stroke="#333333" stroke-width="1.0" />
<line x1="498.9" y1="274.4" x2="498.9" y2="264.4" stroke="#777777" stroke-width="1.0" />
<line x1="497.2" y1="264.4" x2="500.59999999999997" y2="264.4" stroke="#333333" stroke-width="1.0" />
<line x1="498.9" y1="274.4" x2="498.9" y2="287.4" stroke="#777777" stroke-width="1.0" />
<line x1="497.2" y1="287.4" x2="500.59999999999997" y2="287.4" stroke="#333333" stroke-width="1.0" />
<line x1="467.1" y1="243.0" x2="467.1" y2="222.0" stroke="#5a70a0" stroke-width="1.0" />
<line x1="465.40000000000003" y1="222.0" x2="468.8" y2="222.0" stroke="#2f4a80" stroke-width="1.0" />
<line x1="467.1" y1="243.0" x2="467.1" y2="253.0" stroke="#5a70a0" stroke-width="1.0" />
<line x1="465.40000000000003" y1="253.0" x2="468.8" y2="253.0" stroke="#2f4a80" stroke-width="1.0" />
<line x1="467.1" y1="268.5" x2="467.1" y2="278.5" stroke="#8a8a8a" stroke-width="1.0" />
<line x1="465.40000000000003" y1="278.5" x2="468.8" y2="278.5" stroke="#666666" stroke-width="1.0" />
<line x1="498.9" y1="264.1" x2="498.9" y2="218.10000000000002" stroke="#8a8a8a" stroke-width="1.0" />
<line x1="497.2" y1="218.10000000000002" x2="500.59999999999997" y2="218.10000000000002" stroke="#666666" stroke-width="1.0" />
<line x1="498.9" y1="264.1" x2="498.9" y2="274.1" stroke="#8a8a8a" stroke-width="1.0" />
<line x1="497.2" y1="274.1" x2="500.59999999999997" y2="274.1" stroke="#666666" stroke-width="1.0" />
<line x1="435.0" y1="281.0" x2="435.0" y2="275.0" stroke="#c06060" stroke-width="1.0" />
<line x1="433.3" y1="275.0" x2="436.7" y2="275.0" stroke="#902020" stroke-width="1.0" />
<line x1="435.0" y1="281.0" x2="435.0" y2="287.0" stroke="#c06060" stroke-width="1.0" />
<line x1="433.3" y1="287.0" x2="436.7" y2="287.0" stroke="#902020" stroke-width="1.0" />
<line x1="467.1" y1="265.2" x2="467.1" y2="255.2" stroke="#c06060" stroke-width="1.0" />
<line x1="465.40000000000003" y1="255.2" x2="468.8" y2="255.2" stroke="#902020" stroke-width="1.0" />
<line x1="467.1" y1="265.2" x2="467.1" y2="275.2" stroke="#c06060" stroke-width="1.0" />
<line x1="465.40000000000003" y1="275.2" x2="468.8" y2="275.2" stroke="#902020" stroke-width="1.0" />
<polyline points="339.5,307.6 371.5,302.0 403.2,287.0 435.0,268.5 467.1,244.0 498.9,233.5" fill="none" stroke="#b4c7e7" stroke-width="1.8" stroke-linejoin="round"/>
<circle cx="339.5" cy="307.6" r="1.98" fill="#fff" stroke="#555" stroke-width="0.85"/>
<circle cx="371.5" cy="302.0" r="1.98" fill="#fff" stroke="#555" stroke-width="0.85"/>
<circle cx="403.2" cy="287.0" r="1.98" fill="#fff" stroke="#555" stroke-width="0.85"/>
<circle cx="435.0" cy="268.5" r="1.98" fill="#fff" stroke="#555" stroke-width="0.85"/>
<circle cx="467.1" cy="244.0" r="1.98" fill="#fff" stroke="#555" stroke-width="0.85"/>
<circle cx="498.9" cy="233.5" r="1.98" fill="#fff" stroke="#555" stroke-width="0.85"/>
<polyline points="339.5,307.6 371.5,302.0 403.2,288.5 435.0,273.5 467.1,243.0 498.9,236.0" fill="none" stroke="#2c4a8a" stroke-width="1.8" stroke-linejoin="round"/>
<circle cx="339.5" cy="307.6" r="2.052" fill="#2c4a8a" stroke="#1f3460" stroke-width="0.6"/>
<circle cx="371.5" cy="302.0" r="2.052" fill="#2c4a8a" stroke="#1f3460" stroke-width="0.6"/>
<circle cx="403.2" cy="288.5" r="2.052" fill="#2c4a8a" stroke="#1f3460" stroke-width="0.6"/>
<circle cx="435.0" cy="273.5" r="2.052" fill="#2c4a8a" stroke="#1f3460" stroke-width="0.6"/>
<circle cx="467.1" cy="243.0" r="2.052" fill="#2c4a8a" stroke="#1f3460" stroke-width="0.6"/>
<circle cx="498.9" cy="236.0" r="2.052" fill="#2c4a8a" stroke="#1f3460" stroke-width="0.6"/>
<polyline points="339.5,307.6 371.5,303.5 403.2,293.6 435.0,284.2 467.1,268.5 498.9,264.1" fill="none" stroke="#808080" stroke-width="1.8" stroke-linejoin="round"/>
<rect x="337.628" y="305.728" width="3.7439999999999998" height="3.7439999999999998" fill="#fff" stroke="#444" stroke-width="0.9"/>
<rect x="369.628" y="301.628" width="3.7439999999999998" height="3.7439999999999998" fill="#fff" stroke="#444" stroke-width="0.9"/>
<rect x="401.328" y="291.728" width="3.7439999999999998" height="3.7439999999999998" fill="#fff" stroke="#444" stroke-width="0.9"/>
<rect x="433.128" y="282.328" width="3.7439999999999998" height="3.7439999999999998" fill="#fff" stroke="#444" stroke-width="0.9"/>
<rect x="465.228" y="266.628" width="3.7439999999999998" height="3.7439999999999998" fill="#fff" stroke="#444" stroke-width="0.9"/>
<rect x="497.02799999999996" y="262.228" width="3.7439999999999998" height="3.7439999999999998" fill="#fff" stroke="#444" stroke-width="0.9"/>
<polyline points="339.5,307.6 371.5,304.5 403.2,298.7 435.0,293.6 467.1,283.9 498.9,274.4" fill="none" stroke="#000000" stroke-width="1.8" stroke-linejoin="round"/>
<rect x="337.412" y="305.512" width="4.176" height="4.176" fill="#000"/>
<rect x="369.412" y="302.412" width="4.176" height="4.176" fill="#000"/>
<rect x="401.11199999999997" y="296.61199999999997" width="4.176" height="4.176" fill="#000"/>
<rect x="432.912" y="291.512" width="4.176" height="4.176" fill="#000"/>
<rect x="465.012" y="281.81199999999995" width="4.176" height="4.176" fill="#000"/>
<rect x="496.81199999999995" y="272.31199999999995" width="4.176" height="4.176" fill="#000"/>
<polyline points="339.5,307.6 371.5,301.0 403.2,286.0 435.0,267.5 467.1,251.5 498.9,230.5" fill="none" stroke="#e08a96" stroke-width="1.8" stroke-linejoin="round"/>
<path d="M337.412 305.512 L341.588 309.68800000000005 M337.412 309.68800000000005 L341.588 305.512" stroke="#5a4a50" stroke-width="0.8" fill="none"/>
<path d="M369.412 298.912 L373.588 303.088 M369.412 303.088 L373.588 298.912" stroke="#5a4a50" stroke-width="0.8" fill="none"/>
<path d="M401.11199999999997 283.912 L405.288 288.088 M401.11199999999997 288.088 L405.288 283.912" stroke="#5a4a50" stroke-width="0.8" fill="none"/>
<path d="M432.912 265.412 L437.088 269.588 M432.912 269.588 L437.088 265.412" stroke="#5a4a50" stroke-width="0.8" fill="none"/>
<path d="M465.012 249.412 L469.18800000000005 253.588 M465.012 253.588 L469.18800000000005 249.412" stroke="#5a4a50" stroke-width="0.8" fill="none"/>
<path d="M496.81199999999995 228.412 L500.988 232.588 M496.81199999999995 232.588 L500.988 228.412" stroke="#5a4a50" stroke-width="0.8" fill="none"/>
<polyline points="339.5,307.6 371.5,303.0 403.2,294.3 435.0,281.0 467.1,265.2 498.9,253.5" fill="none" stroke="#b81820" stroke-width="1.8" stroke-linejoin="round"/>
<path d="M337.412 305.512 L341.588 309.68800000000005 M337.412 309.68800000000005 L341.588 305.512" stroke="#4a1515" stroke-width="0.8" fill="none"/>
<path d="M369.412 300.912 L373.588 305.088 M369.412 305.088 L373.588 300.912" stroke="#4a1515" stroke-width="0.8" fill="none"/>
<path d="M401.11199999999997 292.212 L405.288 296.38800000000003 M401.11199999999997 296.38800000000003 L405.288 292.212" stroke="#4a1515" stroke-width="0.8" fill="none"/>
<path d="M432.912 278.912 L437.088 283.088 M432.912 283.088 L437.088 278.912" stroke="#4a1515" stroke-width="0.8" fill="none"/>
<path d="M465.012 263.11199999999997 L469.18800000000005 267.288 M465.012 267.288 L469.18800000000005 263.11199999999997" stroke="#4a1515" stroke-width="0.8" fill="none"/>
<path d="M496.81199999999995 251.412 L500.988 255.588 M496.81199999999995 255.588 L500.988 251.412" stroke="#4a1515" stroke-width="0.8" fill="none"/>
</g>
<line x1="561.1" y1="160.6" x2="573.5" y2="160.6" stroke="#b4c7e7" stroke-width="1.4" />
<circle cx="567.4" cy="160.6" r="1.87" fill="#fff" stroke="#555" stroke-width="0.85"/>
<text x="575.0" y="163.29999999999998" font-size="7.5" text-anchor="start" font-weight="normal" fill="#222" stroke="#222" stroke-width="0" >Ctrl</text>
<line x1="561.1" y1="172.65" x2="573.5" y2="172.65" stroke="#2c4a8a" stroke-width="1.4" />
<circle cx="567.4" cy="172.65" r="1.9380000000000002" fill="#2c4a8a" stroke="#1f3460" stroke-width="0.6"/>
<text x="575.0" y="175.35" font-size="7.5" text-anchor="start" font-weight="normal" fill="#222" stroke="#222" stroke-width="0" >InL</text>
<line x1="561.1" y1="184.7" x2="573.5" y2="184.7" stroke="#808080" stroke-width="1.4" />
<rect x="565.632" y="182.932" width="3.5360000000000005" height="3.5360000000000005" fill="#fff" stroke="#444" stroke-width="0.9"/>
<text x="575.0" y="187.39999999999998" font-size="7.5" text-anchor="start" font-weight="normal" fill="#222" stroke="#222" stroke-width="0" >ABX90</text>
<line x1="561.1" y1="196.75" x2="573.5" y2="196.75" stroke="#000000" stroke-width="1.4" />
<rect x="565.428" y="194.778" width="3.944" height="3.944" fill="#000"/>
<text x="575.0" y="199.45" font-size="7.5" text-anchor="start" font-weight="normal" fill="#222" stroke="#222" stroke-width="0" >InL+ABX90</text>
<line x1="561.1" y1="208.8" x2="573.5" y2="208.8" stroke="#e08a96" stroke-width="1.4" />
<path d="M565.428 206.828 L569.372 210.77200000000002 M565.428 210.77200000000002 L569.372 206.828" stroke="#5a4a50" stroke-width="0.8" fill="none"/>
<text x="575.0" y="211.5" font-size="7.5" text-anchor="start" font-weight="normal" fill="#222" stroke="#222" stroke-width="0" >ABX45</text>
<line x1="561.1" y1="220.85" x2="573.5" y2="220.85" stroke="#b81820" stroke-width="1.4" />
<path d="M565.428 218.878 L569.372 222.822 M565.428 222.822 L569.372 218.878" stroke="#4a1515" stroke-width="0.8" fill="none"/>
<text x="575.0" y="223.54999999999998" font-size="7.5" text-anchor="start" font-weight="normal" fill="#222" stroke="#222" stroke-width="0" >InL+ABX45</text>
<rect x="545" y="231.3" width="113" height="110.4" fill="none" stroke="#444" stroke-width="0.9"/>
<text x="550.4" y="241.4" font-size="7" text-anchor="start" font-weight="normal" fill="#222" stroke="#222" stroke-width="0" >a.</text>
<text x="560.0" y="241.4" font-size="7" text-anchor="start" font-weight="normal" fill="#222" stroke="#222" stroke-width="0" >Ctrl</text>
<text x="597.3" y="241.4" font-size="7" text-anchor="start" font-weight="normal" fill="#222" stroke="#222" stroke-width="0" >v.s</text>
<text x="610.9" y="241.4" font-size="7" text-anchor="start" font-weight="normal" fill="#222" stroke="#222" stroke-width="0" >InL+ABX45</text>
<text x="550.4" y="250.1" font-size="7" text-anchor="start" font-weight="normal" fill="#222" stroke="#222" stroke-width="0" >b.</text>
<text x="560.0" y="250.1" font-size="7" text-anchor="start" font-weight="normal" fill="#222" stroke="#222" stroke-width="0" >Ctrl</text>
<text x="597.3" y="250.1" font-size="7" text-anchor="start" font-weight="normal" fill="#222" stroke="#222" stroke-width="0" >v.s</text>
<text x="610.9" y="250.1" font-size="7" text-anchor="start" font-weight="normal" fill="#222" stroke="#222" stroke-width="0" >ABX90</text>
<text x="550.4" y="258.8" font-size="7" text-anchor="start" font-weight="normal" fill="#222" stroke="#222" stroke-width="0" >c.</text>
<text x="560.0" y="258.8" font-size="7" text-anchor="start" font-weight="normal" fill="#222" stroke="#222" stroke-width="0" >Ctrl</text>
<text x="597.3" y="258.8" font-size="7" text-anchor="start" font-weight="normal" fill="#222" stroke="#222" stroke-width="0" >v.s.</text>
<text x="610.9" y="258.8" font-size="7" text-anchor="start" font-weight="normal" fill="#222" stroke="#222" stroke-width="0" >InL+ABX90</text>
<text x="550.4" y="267.5" font-size="7" text-anchor="start" font-weight="normal" fill="#222" stroke="#222" stroke-width="0" >d.</text>
<text x="560.0" y="267.5" font-size="7" text-anchor="start" font-weight="normal" fill="#222" stroke="#222" stroke-width="0" >InL</text>
<text x="597.9" y="267.5" font-size="7" text-anchor="start" font-weight="normal" fill="#222" stroke="#222" stroke-width="0" >v.s.</text>
<text x="611.6" y="267.5" font-size="7" text-anchor="start" font-weight="normal" fill="#222" stroke="#222" stroke-width="0" >InL+ABX45</text>
<text x="550.4" y="276.2" font-size="7" text-anchor="start" font-weight="normal" fill="#222" stroke="#222" stroke-width="0" >e.</text>
<text x="560.0" y="276.2" font-size="7" text-anchor="start" font-weight="normal" fill="#222" stroke="#222" stroke-width="0" >InL</text>
<text x="597.9" y="276.2" font-size="7" text-anchor="start" font-weight="normal" fill="#222" stroke="#222" stroke-width="0" >v.s</text>
<text x="611.6" y="276.2" font-size="7" text-anchor="start" font-weight="normal" fill="#222" stroke="#222" stroke-width="0" >ABX90</text>
<text x="550.4" y="284.9" font-size="7" text-anchor="start" font-weight="normal" fill="#222" stroke="#222" stroke-width="0" >f.</text>
<text x="560.0" y="284.9" font-size="7" text-anchor="start" font-weight="normal" fill="#222" stroke="#222" stroke-width="0" >InL</text>
<text x="597.9" y="284.9" font-size="7" text-anchor="start" font-weight="normal" fill="#222" stroke="#222" stroke-width="0" >v.s</text>
<text x="611.6" y="284.9" font-size="7" text-anchor="start" font-weight="normal" fill="#222" stroke="#222" stroke-width="0" >InL+ABX90</text>
<text x="550.4" y="293.6" font-size="7" text-anchor="start" font-weight="normal" fill="#222" stroke="#222" stroke-width="0" >g.</text>
<text x="560.0" y="293.6" font-size="7" text-anchor="start" font-weight="normal" fill="#222" stroke="#222" stroke-width="0" >ABX45</text>
<text x="597.9" y="293.6" font-size="7" text-anchor="start" font-weight="normal" fill="#222" stroke="#222" stroke-width="0" >v.s</text>
<text x="611.6" y="293.6" font-size="7" text-anchor="start" font-weight="normal" fill="#222" stroke="#222" stroke-width="0" >InL+ABX45</text>
<text x="550.4" y="302.3" font-size="7" text-anchor="start" font-weight="normal" fill="#222" stroke="#222" stroke-width="0" >h.</text>
<text x="560.0" y="302.3" font-size="7" text-anchor="start" font-weight="normal" fill="#222" stroke="#222" stroke-width="0" >ABX45</text>
<text x="597.9" y="302.3" font-size="7" text-anchor="start" font-weight="normal" fill="#222" stroke="#222" stroke-width="0" >v.s.</text>
<text x="611.6" y="302.3" font-size="7" text-anchor="start" font-weight="normal" fill="#222" stroke="#222" stroke-width="0" >ABX90</text>
<text x="550.4" y="311.0" font-size="7" text-anchor="start" font-weight="normal" fill="#222" stroke="#222" stroke-width="0" >i.</text>
<text x="560.0" y="311.0" font-size="7" text-anchor="start" font-weight="normal" fill="#222" stroke="#222" stroke-width="0" >ABX45</text>
<text x="597.9" y="311.0" font-size="7" text-anchor="start" font-weight="normal" fill="#222" stroke="#222" stroke-width="0" >v.s.</text>
<text x="611.6" y="311.0" font-size="7" text-anchor="start" font-weight="normal" fill="#222" stroke="#222" stroke-width="0" >InL+ABX90</text>
<text x="550.4" y="319.7" font-size="7" text-anchor="start" font-weight="normal" fill="#222" stroke="#222" stroke-width="0" >j.</text>
<text x="560.0" y="319.7" font-size="7" text-anchor="start" font-weight="normal" fill="#222" stroke="#222" stroke-width="0" >InL+ABX45</text>
<text x="596.6" y="319.7" font-size="7" text-anchor="start" font-weight="normal" fill="#222" stroke="#222" stroke-width="0" >v.s.</text>
<text x="611.6" y="319.7" font-size="7" text-anchor="start" font-weight="normal" fill="#222" stroke="#222" stroke-width="0" >ABX90</text>
<text x="550.4" y="328.4" font-size="7" text-anchor="start" font-weight="normal" fill="#222" stroke="#222" stroke-width="0" >k.</text>
<text x="560.0" y="328.4" font-size="7" text-anchor="start" font-weight="normal" fill="#222" stroke="#222" stroke-width="0" >InL+ABX45</text>
<text x="596.6" y="328.4" font-size="7" text-anchor="start" font-weight="normal" fill="#222" stroke="#222" stroke-width="0" >v.s.</text>
<text x="611.6" y="328.4" font-size="7" text-anchor="start" font-weight="normal" fill="#222" stroke="#222" stroke-width="0" >InL+ABX90</text>
<text x="550.4" y="337.1" font-size="7" text-anchor="start" font-weight="normal" fill="#222" stroke="#222" stroke-width="0" >l.</text>
<text x="560.0" y="337.1" font-size="7" text-anchor="start" font-weight="normal" fill="#222" stroke="#222" stroke-width="0" >ABX90</text>
<text x="597.9" y="337.1" font-size="7" text-anchor="start" font-weight="normal" fill="#222" stroke="#222" stroke-width="0" >v.s</text>
<text x="611.6" y="337.1" font-size="7" text-anchor="start" font-weight="normal" fill="#222" stroke="#222" stroke-width="0" >InL+ABX90</text>
</svg>
</body></html>
